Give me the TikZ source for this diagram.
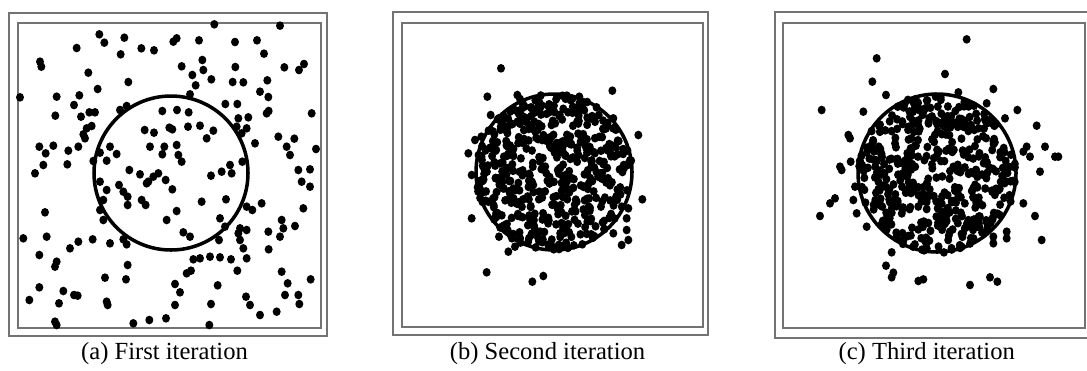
\documentclass[tikz,border=0pt]{standalone}
\usepackage{fontspec}
\setmainfont{Liberation Serif}
\begin{document}
\begin{tikzpicture}[x=0.02cm,y=-0.02cm,
  frameline/.style={draw=black!55, line width=1.3pt},
  ring/.style={draw=black, line width=2pt},
  captext/.style={font=\fontsize{14}{16}\selectfont, anchor=base, inner sep=0pt}]
\useasboundingbox (0,0) rectangle (1087,370);
\clip (0,0) rectangle (1087,370);
% frames
\draw[frameline] (9,13) rectangle (327,336);
\draw[frameline] (18,23) rectangle (321,328);
\draw[frameline] (393,12) rectangle (708,335);
\draw[frameline] (402,23) rectangle (703,327);
\draw[frameline] (775,12) rectangle (1095,338);
\draw[frameline] (783,23) rectangle (1085,328);
% panel a
\draw[ring] (171,173) circle[radius=77];
\begin{scope}[scale=1/3]
\foreach \x/\y in {643/73, 840/77, 298/103, 313/128, 373/113, 520/125, 530/115, 597/121, 705/126, 771/121, 230/144, 424/145, 462/151, 362/163, 792/161, 120/185, 124/200, 545/199, 607/180, 610/210, 634/238, 706/201, 853/202, 912/192, 897/210, 265/218, 577/225, 587/256, 698/246, 730/247, 802/241, 385/246, 293/267, 60/292, 170/290, 238/286, 570/283, 780/275, 805/291, 222/315, 676/312, 712/312, 380/318, 360/330, 166/347, 243/350, 268/337, 285/337, 487/333, 531/330, 566/337, 715/355, 745/352, 800/340, 806/333, 935/340, 275/378, 260/385, 250/403, 255/415, 434/390, 462/398, 508/383, 517/388, 564/380, 600/377, 640/392, 710/380, 740/385, 620/415, 835/410, 883/416, 860/440, 870/465, 948/447, 118/440, 137/460, 160/437, 205/452, 235/440, 300/458, 330/440, 350/462, 450/440, 493/440, 530/435, 487/463, 535/465, 545/485, 765/430, 725/400, 130/495, 105/520, 202/493, 280/483, 320/482, 388/510, 420/523, 445/545, 460/530, 497/540, 517/568, 475/520, 633/527, 665/515, 690/495, 695/520, 727/485, 895/510, 930/508, 905/545, 930/560, 300/545, 320/570, 357/555, 370/575, 383/590, 383/615, 425/600, 437/615, 605/605, 678/598, 740/620, 757/630, 785/610, 910/625, 135/637, 310/600, 440/550, 300/630, 310/660, 500/660, 530/633, 660/655, 675/680, 720/685, 740/690, 715/700, 845/660, 850/685, 885/678, 805/695, 840/710, 70/715, 140/710, 210/745, 235/725, 278/718, 330/730, 370/718, 380/733, 550/697, 570/710, 657/720, 720/720, 730/745, 806/748, 118/765, 170/785, 165/800, 383/795, 580/778, 600/775, 630/770, 660/772, 693/778, 740/775, 712/812, 315/833, 378/838, 560/820, 573/812, 525/852, 653/856, 845/815, 863/850, 932/838, 118/862, 190/873, 222/885, 233/887, 540/877, 738/890, 855/885, 895/885, 898/912, 88/900, 177/910, 320/905, 323/915, 525/915, 633/912, 750/915, 780/945, 830/935, 165/965, 170/975, 400/970, 448/960, 498/955, 628/975}
  \fill (\x,\y) circle[x radius=12, y radius=13];
\end{scope}
% panel b
\draw[ring] (554,172) circle[radius=78];
\begin{scope}[shift={(380,0)},scale=1/3]
\pgfmathsetseed{4711}
\foreach \i in {1,...,500}{
  \pgfmathsetmacro\rr{235*sqrt(rnd)}
  \pgfmathsetmacro\aa{360*rnd}
  \fill ({522+\rr*cos(\aa)},{517+\rr*sin(\aa)}) circle[x radius=12, y radius=13];
}
\foreach \x/\y in {363/205, 322/290, 697/272, 332/345, 412/285, 420/297, 598/290, 700/355, 775/405, 304/410, 285/420, 265/460, 275/525, 787/598, 275/655, 745/625, 740/655, 320/817, 457/845, 490/828, 357/710, 385/755, 405/740, 740/690, 745/720, 725/735, 700/700}
  \fill (\x,\y) circle[x radius=12, y radius=13];
\end{scope}
% panel c
\draw[ring] (937,173) circle[radius=79];
\begin{scope}[shift={(760,0)},scale=1/3]
\pgfmathsetseed{2024}
\foreach \i in {1,...,470}{
  \pgfmathsetmacro\rr{238*sqrt(rnd)}
  \pgfmathsetmacro\aa{360*rnd}
  \fill ({533+\rr*cos(\aa)},{520+\rr*sin(\aa)}) circle[x radius=12, y radius=13];
}
\foreach \x/\y in {620/118, 350/175, 555/222, 337/245, 378/285, 595/277, 700/267, 185/330, 680/310, 772/330, 735/355, 830/377, 855/440, 885/470, 895/470, 840/515, 810/470, 790/610, 825/648, 845/720, 740/695, 740/715, 700/710, 700/730, 180/648, 210/610, 225/595, 240/500, 245/510, 265/405, 270/415, 272/485, 310/335, 395/757, 378/797, 400/818, 395/832, 475/843, 490/838, 630/855, 690/832, 712/845, 285/560, 280/600, 290/640, 320/680, 800/440, 790/455}
  \fill (\x,\y) circle[x radius=12, y radius=13];
\end{scope}
% captions
\node[captext] (capa) at (164.5,359) {(a) First iteration};
\node[captext] (capb) at (547.5,359) {(b) Second iteration};
\node[captext] (capc) at (926.7,359) {(c) Third iteration};
\end{tikzpicture}
\end{document}
